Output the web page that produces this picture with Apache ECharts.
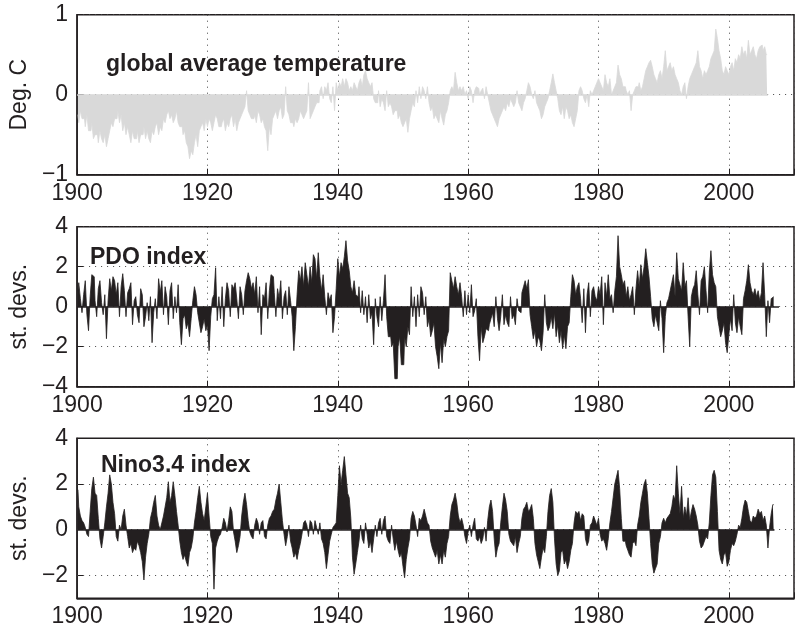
<!DOCTYPE html>
<html>
<head>
<meta charset="utf-8">
<script src="https://cdn.jsdelivr.net/npm/echarts@6/dist/echarts.min.js"></script>
<style>
html, body { margin: 0; padding: 0; background: #fff; }
#chart { width: 797px; height: 630px; }
</style>
</head>
<body>
<div id="chart"></div>
<script>
// quarterly values, 4 per year, starting 1900
var tempStart = 1900;
var tempVals = [
	-0.25,-0.35,-0.2,-0.3, -0.3,-0.4,-0.25,-0.45, -0.45,-0.35,-0.55,-0.5, -0.5,-0.6,-0.45,-0.55, -0.6,-0.5,-0.65,-0.55,
	-0.45,-0.35,-0.4,-0.3, -0.3,-0.2,-0.35,-0.25, -0.45,-0.35,-0.5,-0.4, -0.5,-0.6,-0.45,-0.55, -0.55,-0.45,-0.6,-0.5,
	-0.5,-0.4,-0.55,-0.45, -0.55,-0.6,-0.45,-0.5, -0.4,-0.35,-0.5,-0.4, -0.45,-0.3,-0.35,-0.25, -0.2,-0.3,-0.25,-0.35,
	-0.3,-0.2,-0.35,-0.4, -0.4,-0.5,-0.45,-0.6, -0.65,-0.8,-0.7,-0.75, -0.6,-0.5,-0.65,-0.45, -0.4,-0.35,-0.45,-0.3,
	-0.4,-0.3,-0.35,-0.45, -0.35,-0.25,-0.3,-0.4, -0.4,-0.35,-0.3,-0.45, -0.35,-0.4,-0.3,-0.25, -0.4,-0.3,-0.45,-0.35,
	-0.3,-0.25,-0.2,-0.15, 0.05,-0.2,-0.25,-0.3, -0.3,-0.25,-0.35,-0.2, -0.25,-0.35,-0.3,-0.4, -0.45,-0.7,-0.4,-0.5,
	-0.3,-0.25,-0.2,-0.3, -0.2,-0.15,-0.3,-0.25, 0.1,-0.2,-0.25,-0.35, -0.35,-0.4,-0.3,-0.35, -0.3,-0.2,-0.25,-0.3,
	-0.25,-0.2,0.15,-0.3, -0.25,-0.2,-0.15,-0.1, -0.1,0.05,0.1,-0.05, 0.1,0.05,0.15,-0.05, -0.1,0.1,-0.2,0.15,
	0.05,0.15,0.1,0.2, 0.1,0.2,0.15,0.05, 0.1,0.05,0.15,0.1, 0.05,0.15,0.2,0.1, 0.25,0.3,0.2,0.15,
	0.1,0.15,-0.05,-0.1, -0.1,0.05,-0.15,-0.05, -0.1,-0.2,0.05,-0.15, -0.1,-0.15,-0.25,-0.2, -0.2,-0.3,-0.25,-0.35,
	-0.4,-0.35,-0.3,-0.47, -0.3,-0.2,-0.1,-0.15, 0.05,-0.1,0.1,-0.05, 0.1,0.05,-0.05,0.1, -0.1,-0.2,-0.15,-0.3,
	-0.25,-0.3,-0.35,-0.2, -0.3,-0.38,-0.25,-0.2, -0.1,0.05,0.1,0.05, 0.28,0.15,0.05,0.1, 0.05,0.1,0.0,0.05,
	-0.05,0.1,0.05,-0.1, 0.05,0.1,0.08,0.0, 0.05,0.08,-0.05,0.1, 0.0,-0.1,-0.2,-0.25, -0.3,-0.35,-0.4,-0.3,
	-0.25,-0.2,-0.15,-0.2, -0.1,-0.15,-0.05,-0.1, -0.15,-0.1,0.05,-0.1, -0.15,-0.2,-0.1,-0.05, 0.05,0.15,0.1,0.0,
	-0.05,0.05,-0.1,-0.15, -0.2,-0.3,-0.25,-0.15, -0.1,-0.05,0.05,0.15, 0.26,0.15,0.05,-0.05, -0.2,-0.25,-0.15,-0.3,
	-0.15,-0.2,-0.3,-0.25, -0.35,-0.4,-0.3,-0.2, 0.05,0.1,0.05,-0.05, -0.1,0.0,-0.15,0.05, 0.0,0.05,0.1,0.15,
	0.2,0.15,0.1,0.05, 0.25,0.15,0.1,0.2, 0.0,0.05,0.1,0.15, 0.37,0.25,0.2,0.1, 0.1,0.05,0.0,0.05,
	-0.2,0.0,0.05,0.1, 0.1,0.15,0.05,0.1, 0.2,0.3,0.35,0.4, 0.43,0.35,0.25,0.2, 0.15,0.25,0.3,0.2,
	0.35,0.55,0.3,0.35, 0.4,0.3,0.35,0.25, 0.2,0.15,0.05,0.0, 0.1,0.15,-0.05,0.1, 0.2,0.25,0.3,0.35,
	0.4,0.55,0.35,0.3, 0.2,0.3,0.25,0.3, 0.35,0.45,0.5,0.55, 0.82,0.7,0.55,0.45, 0.3,0.25,0.35,0.3,
	0.25,0.35,0.4,0.3, 0.45,0.4,0.5,0.45, 0.6,0.5,0.55,0.45, 0.68,0.5,0.55,0.6, 0.5,0.45,0.55,0.6,
	0.62,0.55,0.6,0.5
];
var pdoVals = [
	0.8,1.2,0.4,-0.3, 0.6,1.3,-0.4,-1.2, 0.5,1.6,1.5,0.3, -0.5,0.9,1.3,0.2, -0.4,0.6,-1.6,0.3,
	1.4,0.8,1.5,1.3, 0.6,1.2,-0.5,1.0, 1.65,0.8,-0.5,0.7, 0.9,1.2,-0.9,0.3, 0.5,-0.4,-0.8,0.9,
	0.6,-1.0,-0.5,0.2, -0.7,0.5,-1.8,-0.3, 0.4,-0.6,1.4,0.7, 1.3,-0.4,1.0,0.5, -0.9,0.8,1.2,-0.6,
	0.5,-0.3,1.1,-0.8, -1.9,-0.6,-0.4,-1.1, -0.8,-1.5,-0.6,0.3, 1.0,0.6,-0.3,-0.8, -1.3,-1.0,-0.6,-1.2,
	-0.9,-2.2,-0.5,0.4, 0.6,1.95,-0.7,0.5, -0.6,1.0,-1.0,0.4, 1.2,0.8,-0.5,1.1, 0.9,1.2,0.4,-0.6,
	1.0,0.6,-0.4,0.8, 1.3,1.7,1.4,0.9, 1.2,0.6,1.5,-0.3, 1.0,-1.4,0.6,0.4, 1.2,-0.6,0.8,1.6,
	1.5,0.7,-0.5,0.9, 0.4,1.3,-0.6,0.5, 0.8,-0.4,1.0,0.3, -0.5,-2.2,-1.0,0.6, 1.8,1.3,2.0,1.0,
	2.2,1.6,1.0,2.0, 1.2,2.6,2.4,1.4, 2.7,1.5,0.8,1.6, 0.5,-0.4,0.7,0.3, 0.6,-1.3,-0.5,0.9,
	2.4,1.5,2.2,1.9, 2.5,3.3,2.3,1.8, 1.0,0.7,1.3,0.6, 0.5,1.0,-0.3,0.8, -0.4,0.5,-0.8,0.6,
	-0.6,-0.3,-1.9,0.4, -0.5,-1.0,0.5,-0.7, 0.3,1.6,-0.5,-1.5, -1.5,-2.0,-1.8,-3.6, -3.6,-2.0,-1.5,-2.9,
	-2.9,-1.5,-2.0,-1.0, -1.4,1.0,-0.5,0.5, -1.0,0.6,-0.5,1.0, 0.7,-0.4,0.5,-1.0, -0.6,-1.5,-1.2,-0.8,
	-2.0,-2.5,-3.1,-1.8, -2.8,-1.6,-2.0,-1.5, -1.2,1.7,1.3,0.9, 1.5,1.0,0.6,1.2, 0.5,-0.5,0.8,-0.4,
	0.6,-0.3,1.1,-0.5, -0.2,0.4,-1.5,-2.7, -1.0,-1.8,-1.5,-1.1, -1.2,-0.9,-0.6,-0.3, -1.0,0.5,-0.6,-1.2,
	-0.5,0.6,-0.9,-0.4, -0.8,-1.0,0.5,-0.6, -0.4,-0.9,0.4,-0.2, -0.3,0.7,1.0,1.3, 0.9,1.35,-0.4,-1.0,
	-1.6,-1.2,-2.0,-1.5, -1.7,-2.2,-1.3,0.6, -0.8,-1.2,-1.0,-0.5, -1.1,-0.3,-1.5,-0.9, -1.8,-1.2,-2.1,-1.4,
	-2.1,-1.0,-0.8,0.5, 1.6,1.3,0.6,1.0, 1.2,0.4,-0.8,0.9, -1.3,0.6,1.2,-0.5, 0.8,1.0,0.5,0.3,
	1.0,0.6,1.5,-0.9, 1.2,0.5,1.6,0.4, 0.6,-0.3,0.8,1.5, 3.55,2.0,1.6,1.1, 1.3,0.5,1.0,0.3,
	0.6,1.0,-0.4,0.9, 1.8,1.0,2.1,1.4, 2.0,2.9,2.2,1.5, 0.5,-0.6,-1.0,-0.4, -0.8,-1.2,0.3,-0.6,
	-2.3,-0.5,0.2,0.4, 0.8,1.2,1.6,0.5, 2.7,1.4,1.1,0.8, 2.2,1.0,1.3,-0.5, -2.0,0.5,0.9,1.1,
	1.8,0.6,-0.4,1.3, 1.5,2.0,0.8,-0.3, 1.7,2.8,1.6,1.2, 1.0,-0.5,-1.0,-1.5, -1.2,-0.8,-1.8,-2.3,
	-1.4,-0.6,-1.2,0.6, -0.8,-1.3,-0.5,-1.0, -1.4,0.4,0.8,1.3, 2.1,1.2,0.8,0.6, 0.9,0.5,0.8,0.3,
	0.7,2.2,0.6,-1.5, 0.3,-0.8,0.4,0.5
];
var ninoVals = [
	1.75,1.0,0.6,0.4, 0.3,0.1,-0.2,-0.3, 0.8,1.8,2.3,1.6, 1.5,0.5,-0.4,-0.8, -0.3,0.3,1.0,1.6,
	2.4,2.0,1.2,0.7, -0.3,-0.5,0.2,0.0, 0.6,0.9,0.2,-0.3, -0.8,-0.6,-1.0,-0.8, -0.9,-0.5,-0.7,-1.0,
	-1.4,-2.2,-1.2,-0.6, -0.2,0.5,0.8,1.2, 1.5,0.6,0.2,0.0, 0.3,0.6,1.0,1.4, 2.1,1.2,1.5,2.1,
	1.5,0.8,0.2,-0.5, -1.0,-1.3,-1.1,-1.4, -1.6,-1.0,-0.8,-0.4, 0.3,0.8,1.4,1.9, 1.2,0.7,0.4,1.0,
	1.6,0.6,-0.3,-0.6, -2.6,-0.8,-0.5,-0.3, -0.2,0.1,0.5,0.3, -0.1,0.4,1.0,0.8, -0.1,-0.5,-1.0,-0.7,
	-0.3,0.6,1.2,1.6, 1.1,0.4,-0.1,-0.3, -0.4,0.2,0.5,0.3, -0.2,0.3,0.4,-0.3, -0.4,0.2,0.5,0.6,
	0.8,0.9,1.3,1.6, 2.0,1.2,0.4,-0.2, -0.7,-0.3,0.2,-0.5, -0.8,-1.2,-1.0,-1.3, -0.9,-0.6,-0.2,0.3,
	0.4,0.2,-0.3,0.4, 0.3,-0.2,0.4,0.1, -0.2,0.3,-0.4,-0.6, -1.0,-1.7,-1.1,-0.5, -0.2,0.1,0.2,0.3,
	1.5,2.8,2.0,2.6, 3.2,2.4,1.6,1.4, 0.5,-1.2,-1.95,-1.5, -1.0,-0.5,0.2,-0.4, -0.6,0.3,-0.2,-0.8,
	-0.5,-1.0,-0.4,0.2, -0.3,0.3,0.5,-0.2, 0.4,0.6,-0.3,-0.5, -0.6,0.2,-0.4,-0.9, -0.5,-0.9,-1.2,-1.0,
	-1.6,-2.1,-1.3,-0.8, -0.4,0.5,0.8,0.6, 0.2,-0.3,0.5,0.4, 0.6,0.9,0.6,0.3, 0.2,-0.5,-0.8,-1.0,
	-1.2,-0.9,-1.5,-1.1, -1.5,-0.9,-1.2,-0.6, -0.3,0.6,1.1,1.3, 1.6,1.2,0.6,0.3, 0.5,0.2,-0.3,-0.6,
	-0.1,0.2,-0.3,0.2, 0.5,-0.4,-0.5,-0.3, -0.6,-0.4,0.1,-0.5, 0.4,1.0,1.3,0.8, -0.4,-1.2,-0.8,-0.6,
	0.3,1.0,1.6,1.3, 0.8,-0.2,-0.5,-0.6, -0.7,-0.3,-1.0,-0.6, -0.3,0.5,0.9,1.0, 1.2,0.8,0.9,1.1,
	0.5,-0.6,-1.1,-1.4, -1.7,-1.2,-0.8,-1.0, -0.3,0.8,1.5,1.8, 1.2,-0.4,-1.5,-2.0, -1.8,-1.0,-0.9,-1.5,
	-1.3,-1.7,-1.4,-0.9, -0.6,0.3,0.8,0.7, 0.8,0.4,0.7,0.6, -0.4,-0.7,-0.5,0.2, 0.3,0.6,0.4,0.2,
	0.5,-0.2,-0.5,-0.4, -0.6,-0.9,-0.4,0.3, 0.8,1.4,2.0,2.3, 2.6,1.8,0.5,-0.5, -0.5,-0.7,-0.9,-1.1,
	-1.2,-0.6,-0.5,-0.7, 0.2,0.6,1.2,1.6, 2.0,2.2,1.6,0.5, -0.6,-1.5,-1.9,-1.7, -1.5,-0.6,-0.3,0.3,
	0.5,0.3,0.5,0.6, 0.7,1.0,1.5,1.3, 2.8,1.6,0.7,1.9, 0.5,1.0,0.6,1.4, 0.4,0.8,1.1,0.9,
	0.6,0.2,-0.5,-0.8, -0.7,-0.5,-0.3,-0.4, 0.3,1.5,2.4,2.6, 2.3,0.8,-0.9,-1.3, -1.5,-1.1,-1.0,-1.6,
	-1.4,-0.9,-0.6,-0.7, -0.5,-0.2,0.2,0.1, 0.5,1.0,1.3,1.2, 0.8,0.4,0.3,0.6, 0.5,0.6,0.9,0.7,
	0.8,0.4,0.6,0.2, -0.8,0.1,0.7,1.1
];
var xTicks = [1900, 1920, 1940, 1960, 1980, 2000];
var panelTitles = ['global average temperature', 'PDO index', 'Nino3.4 index'];
var yNames = ['Deg. C', 'st. devs.', 'st. devs.'];

function toPairs(vals){
	var out = [];
	vals.forEach(function(v, i){
		out.push([tempStart + i * 0.25 + 0.125, v]);
	});
	return out;
}

var ink = '#231f20';
var font = 'Liberation Sans, Arial, Helvetica, sans-serif';
var dots = { color: '#444', width: 1, type: [1, 5] };
var tops = [14.7, 226.7, 438.3];

function xAxisOpt(i){
	return {
		type: 'value', gridIndex: i, min: 1900, max: 2010, interval: 20,
		axisLine: { show: true, onZero: false, lineStyle: { color: ink, width: 1.5 } },
		axisTick: { inside: true, length: 6, lineStyle: { color: ink } },
		axisLabel: {
			color: ink, fontSize: 23, fontFamily: font, margin: 7,
			formatter: function(v){ return xTicks.indexOf(v) >= 0 ? String(v) : ''; }
		},
		splitLine: { show: true, lineStyle: dots }
	};
}
function minus(v){ return String(v).replace('-', '\u2212'); }

var yAxes = [
	{ min: -1, max: 1, interval: 1 },
	{ min: -4, max: 4, interval: 2 },
	{ min: -3, max: 4, interval: 1 }
].map(function(o, i){
	var ax = {
		type: 'value', gridIndex: i, min: o.min, max: o.max, interval: o.interval,
		name: yNames[i], nameLocation: 'middle', nameGap: 40,
		nameTextStyle: { color: ink, fontSize: 23, fontFamily: font },
		axisLine: { show: true, lineStyle: { color: ink, width: 1.5 } },
		axisTick: { inside: true, length: 6, lineStyle: { color: ink } },
		axisLabel: { color: ink, fontSize: 23, fontFamily: font, margin: 9, formatter: minus },
		splitLine: { show: i < 2, lineStyle: dots }
	};
	if (i === 2) {
		ax.axisLabel.customValues = [-2, 0, 2, 4];
		ax.axisTick.customValues = [-2, 0, 2, 4];
	}
	return ax;
});

function zeroLine(endYear, color){
	return {
		silent: true, symbol: 'none', label: { show: false }, animation: false,
		lineStyle: { color: color, width: 1.5, type: 'solid' },
		data: [[{ coord: [1900, 0] }, { coord: [endYear, 0] }]]
	};
}

function areaSeries(idx, vals, color, zl){
	return {
		type: 'line', xAxisIndex: idx, yAxisIndex: idx, step: 'middle',
		symbol: 'none', silent: true,
		lineStyle: { color: color, width: 0.8 },
		areaStyle: { color: color, opacity: 1, origin: 0 },
		data: toPairs(vals),
		markLine: zl
	};
}

var chart = echarts.init(document.getElementById('chart'));
var option = {
	animation: false,
	backgroundColor: '#fff',
	grid: tops.map(function(t){
		return { left: 63, width: 741, top: t, height: 160, show: true, borderColor: ink, borderWidth: 1.5 };
	}),
	title: [
		{ text: panelTitles[0], left: 106, top: 53 },
		{ text: panelTitles[1], left: 90, top: 246 },
		{ text: panelTitles[2], left: 101, top: 454 }
	].map(function(t){
		t.padding = 0;
		t.textStyle = { color: ink, fontSize: 23, fontWeight: 'bold', fontFamily: font };
		return t;
	}),
	xAxis: [xAxisOpt(0), xAxisOpt(1), xAxisOpt(2)],
	yAxis: yAxes,
	series: [
		areaSeries(0, tempVals, '#d9d9d9', zeroLine(2006, '#d9d9d9')),
		areaSeries(1, pdoVals, ink, zeroLine(2007.7, ink)),
		areaSeries(2, ninoVals, ink, {
			silent: true, symbol: 'none', label: { show: false }, animation: false,
			data: [
				{ yAxis: -2, lineStyle: dots },
				{ yAxis: 2, lineStyle: dots },
				{ yAxis: 0, lineStyle: dots },
				[{ coord: [1900, 0], lineStyle: { color: ink, width: 1.5, type: 'solid' } }, { coord: [2007, 0] }]
			]
		})
	]
};
chart.setOption(option);
</script>
</body>
</html>
